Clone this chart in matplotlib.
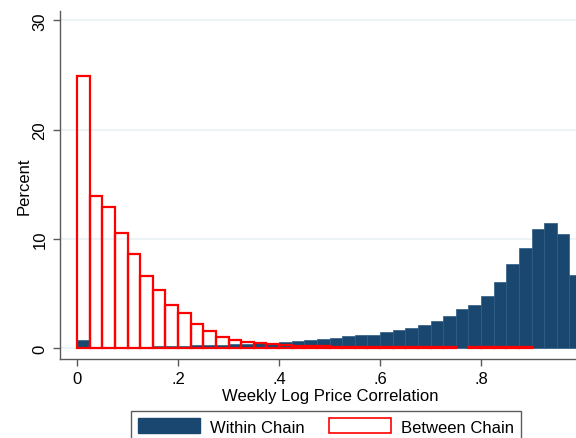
import numpy as np
import matplotlib
matplotlib.use('Agg')
import matplotlib.pyplot as plt
from matplotlib.patches import Patch

plt.rcParams['font.family'] = ['Liberation Sans', 'DejaVu Sans']

# histogram bins (left edges), width .025
bin_left = np.arange(0, 1.0, 0.025)
bin_width = 0.025

within_chain = [0.70, 0.08, 0.08, 0.10, 0.10, 0.12, 0.15, 0.18, 0.22, 0.25,
                0.28, 0.30, 0.34, 0.40, 0.46, 0.48, 0.55, 0.64, 0.72, 0.83,
                0.89, 1.07, 1.19, 1.22, 1.44, 1.65, 1.86, 2.08, 2.45, 2.91,
                3.58, 3.94, 4.80, 6.02, 7.68, 9.20, 10.86, 11.44, 10.40, 6.67]

between_chain = [24.9, 13.9, 12.9, 10.55, 8.62, 6.63, 5.35, 3.97, 3.18, 2.2,
                 1.53, 1.04, 0.73, 0.52, 0.45, 0.37, 0.28, 0.21, 0.18, 0.16,
                 0.14, 0.12, 0.10, 0.10, 0.10, 0.10, 0.10, 0.10, 0.10, 0.10,
                 0.0, 0.06, 0.06, 0.06, 0.06, 0.06, 0.0, 0.0, 0.0, 0.0]

xticks = [0, 0.2, 0.4, 0.6, 0.8]
xtick_labels = ['0', '.2', '.4', '.6', '.8']
yticks = [0, 10, 20, 30]

navy = '#1a476f'
red = '#ff0000'
axis_gray = '#5a5a5a'

fig = plt.figure(figsize=(5.76, 4.39), dpi=100)
ax = fig.add_axes([60/576, 1-360/439, 540/576, 348/439])

ax.bar(bin_left, within_chain, width=bin_width, align='edge',
       color=navy, edgecolor='#2e5b82', linewidth=0.5, zorder=2)

red_vals = np.array(between_chain)
mask = red_vals > 0
ax.bar(bin_left[mask], red_vals[mask], width=bin_width, align='edge',
       facecolor='none', edgecolor=red, linewidth=1.6, zorder=3)

ax.set_xlim(-0.0337, 1.0356)
ax.set_ylim(-1.0, 30.85)

ax.set_xticks(xticks)
ax.set_xticklabels(xtick_labels)
ax.set_yticks(yticks)
ax.set_yticklabels([str(v) for v in yticks], rotation=90, va='center')

ax.grid(axis='y', color='#eaf2f3', linewidth=1.2, zorder=0)
ax.set_axisbelow(True)

for side in ['top', 'right']:
    ax.spines[side].set_visible(False)
for side in ['left', 'bottom']:
    ax.spines[side].set_color(axis_gray)
    ax.spines[side].set_linewidth(1.0)

ax.tick_params(axis='both', colors=axis_gray, labelcolor='black',
               length=5, width=1.0, labelsize=12)
ax.tick_params(axis='y', pad=4)
ax.tick_params(axis='x', pad=4)

ax.set_xlabel('Weekly Log Price Correlation', fontsize=12, labelpad=1)
ax.set_ylabel('Percent', fontsize=12)
ax.yaxis.set_label_coords(-0.053, 0.5)

handles = [Patch(facecolor=navy, edgecolor=navy, label='Within Chain'),
           Patch(facecolor='white', edgecolor=red, linewidth=1.2, label='Between Chain')]
leg = fig.legend(handles=handles, loc='upper center', ncol=2,
                 bbox_to_anchor=(326/576, 1-412/439), fontsize=12,
                 frameon=True, fancybox=False, handlelength=3.7,
                 handleheight=1.0, columnspacing=1.45, handletextpad=0.6,
                 borderpad=0.45, borderaxespad=0)
leg.get_frame().set_edgecolor('#333333')
leg.get_frame().set_linewidth(1.0)

fig.savefig('out.png', dpi=100)
